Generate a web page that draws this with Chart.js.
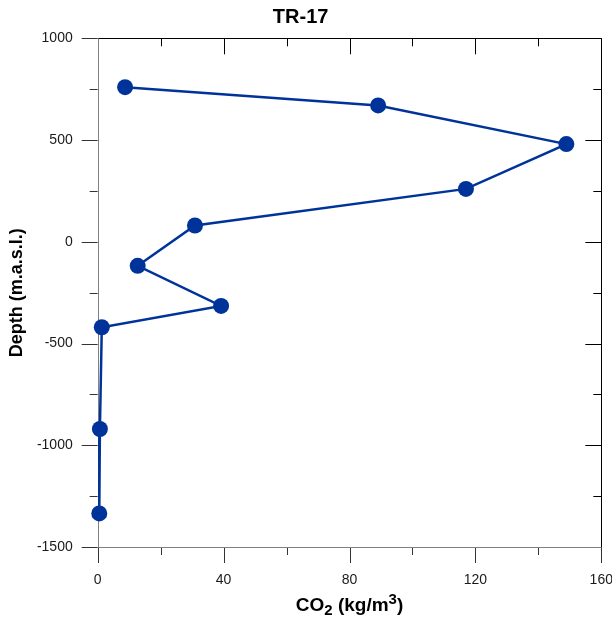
<!DOCTYPE html>
<html>
<head>
<meta charset="utf-8">
<script src="https://cdn.jsdelivr.net/npm/chart.js@4.4.1/dist/chart.umd.min.js"></script>
<style>
  html, body { margin: 0; padding: 0; background: #fff; }
  canvas { display: block; }
</style>
</head>
<body>
<canvas id="perfil" width="612" height="617"></canvas>
<script>
// TR-17: CO2 vs profundidad
const co2 = [8.7, 89.1, 148.9, 117, 30.9, 12.7, 39.2, 1.3, 0.7, 0.5];
const depth = [760, 670, 480, 260, 80, -118, -315, -420, -920, -1335];

const xLabelValues = [0, 40, 80, 120, 160];
const yLabelValues = [-1500, -1000, -500, 0, 500, 1000];

const FONT = "'Liberation Sans', Arial, Helvetica, sans-serif";
const azul = '#003399';

// marco con ticks mayores y menores (abajo/izq hacia fuera, arriba/der hacia dentro)
const marcoPlugin = {
    id: 'marco',
    beforeDatasetsDraw(chart) {
        const { ctx, chartArea: a, scales: { x, y } } = chart;
        const seg = (x1, y1, x2, y2, color) => {
            ctx.strokeStyle = color;
            ctx.beginPath();
            ctx.moveTo(x1, y1);
            ctx.lineTo(x2, y2);
            ctx.stroke();
        };
        ctx.save();
        ctx.lineWidth = 1;
        x.ticks.forEach(t => {
            const px = Math.round(x.getPixelForValue(t.value)) + 0.5;
            const len = xLabelValues.includes(t.value) ? 16 : 8;
            seg(px, a.bottom, px, a.bottom + len, '#333');
            seg(px, a.top, px, a.top + len, '#000');
        });
        y.ticks.forEach(t => {
            const py = Math.round(y.getPixelForValue(t.value)) + 0.5;
            const len = yLabelValues.includes(t.value) ? 16 : 8;
            seg(a.left, py, a.left - len, py, '#333');
            seg(a.right, py, a.right - len, py, '#000');
        });
        const l = Math.round(a.left) + 0.5, r = Math.round(a.right) + 0.5;
        const tp = Math.round(a.top) + 0.5, b = Math.round(a.bottom) + 0.5;
        seg(l, tp, r, tp, '#000');
        seg(r, tp, r, b, '#000');
        seg(l, tp, l, b, '#808080');
        seg(l, b, r, b, '#808080');
        ctx.restore();
    },
    afterDraw(chart) {
        // titulo eje x con subindice y superindice
        const { ctx, chartArea: a } = chart;
        const partes = [
            { t: 'CO', s: 19, dy: 0 },
            { t: '2', s: 15, dy: 4 },
            { t: ' (kg/m', s: 19, dy: 0 },
            { t: '3', s: 15, dy: -7 },
            { t: ')', s: 19, dy: 0 }
        ];
        ctx.save();
        ctx.fillStyle = '#000';
        ctx.textBaseline = 'alphabetic';
        ctx.textAlign = 'left';
        let total = 0;
        partes.forEach(p => {
            ctx.font = `bold ${p.s}px ${FONT}`;
            p.w = ctx.measureText(p.t).width;
            total += p.w;
        });
        let cx = (a.left + a.right) / 2 - total / 2;
        const base = 611;
        partes.forEach(p => {
            ctx.font = `bold ${p.s}px ${FONT}`;
            ctx.fillText(p.t, cx, base + p.dy);
            cx += p.w;
        });
        ctx.restore();
    }
};

const puntos = co2.map((v, i) => ({ x: v, y: depth[i] }));

new Chart(document.getElementById('perfil'), {
    type: 'scatter',
    data: {
        datasets: [{
            label: 'TR-17',
            data: puntos,
            showLine: true,
            borderColor: azul,
            borderWidth: 2.5,
            pointRadius: 8,
            pointHoverRadius: 8,
            pointBackgroundColor: azul,
            pointBorderWidth: 0,
            clip: false
        }]
    },
    options: {
        responsive: false,
        animation: false,
        events: [],
        layout: { padding: { left: 0, right: 10.7, top: 0, bottom: 0 } },
        plugins: {
            legend: { display: false },
            tooltip: { enabled: false },
            title: {
                display: true,
                text: 'TR-17',
                color: '#000',
                font: { family: FONT, size: 20, weight: 'bold' },
                padding: { top: 5, bottom: 9.3 }
            }
        },
        scales: {
            x: {
                type: 'linear',
                position: 'bottom',
                min: 0,
                max: 160,
                afterFit: s => { s.height = 70; s.paddingLeft = 0; s.paddingRight = 0; },
                grid: { drawOnChartArea: false, drawTicks: true, tickLength: 16, tickColor: 'rgba(0,0,0,0)' },
                border: { display: false },
                ticks: {
                    stepSize: 20,
                    padding: 9,
                    color: '#1a1a1a',
                    font: { family: FONT, size: 14 },
                    maxRotation: 0,
                    autoSkip: false,
                    callback: v => xLabelValues.includes(v) ? String(v) : ''
                }
            },
            y: {
                type: 'linear',
                position: 'left',
                min: -1500,
                max: 1000,
                afterFit: s => { s.width = 97.7; },
                grid: { drawOnChartArea: false, drawTicks: true, tickLength: 16, tickColor: 'rgba(0,0,0,0)' },
                border: { display: false },
                title: {
                    display: true,
                    text: 'Depth (m.a.s.l.)',
                    color: '#000',
                    font: { family: FONT, size: 18, weight: 'bold' },
                    padding: { top: 6, bottom: 0 }
                },
                ticks: {
                    stepSize: 250,
                    padding: 9,
                    color: '#1a1a1a',
                    font: { family: FONT, size: 14 },
                    autoSkip: false,
                    callback: v => yLabelValues.includes(v) ? String(v) : ''
                }
            }
        }
    },
    plugins: [marcoPlugin]
});
</script>
</body>
</html>
